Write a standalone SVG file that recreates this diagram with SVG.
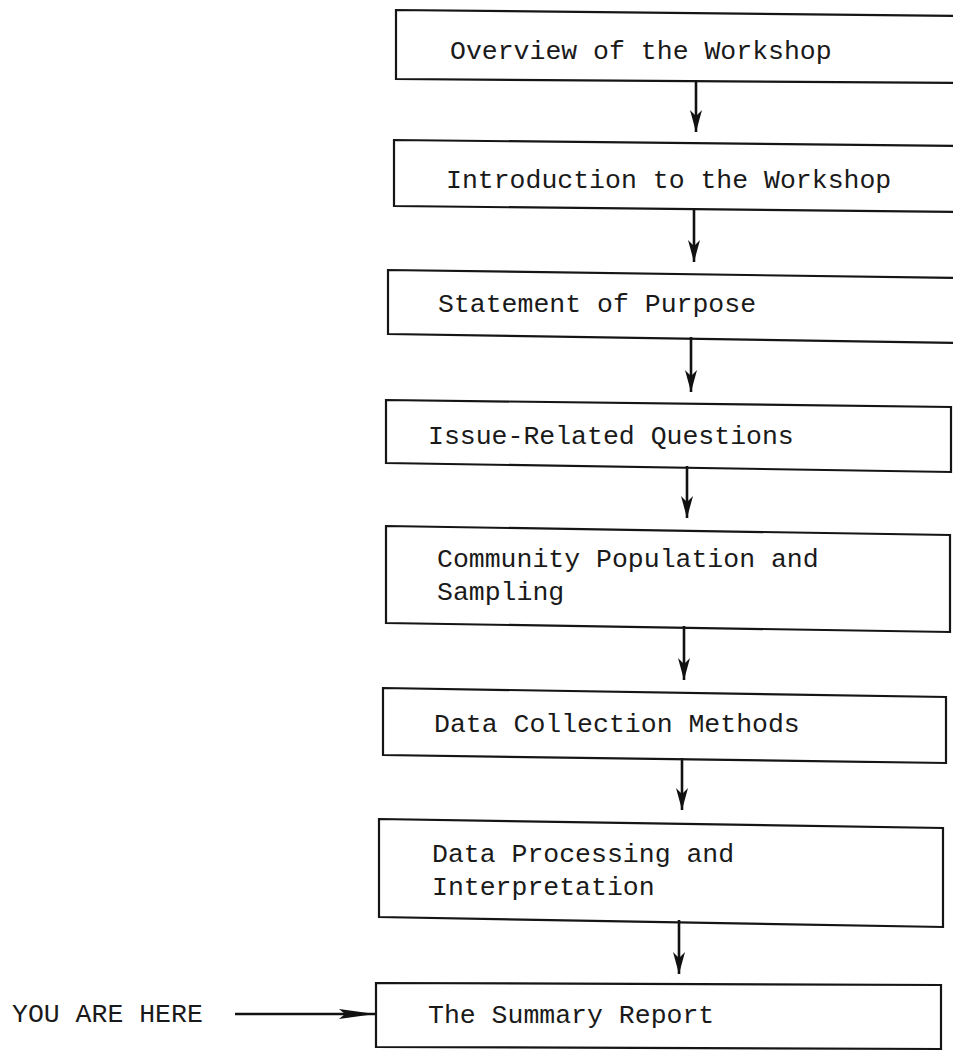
<svg xmlns="http://www.w3.org/2000/svg" width="953" height="1052" viewBox="0 0 953 1052">
<defs>
<style>
.box{fill:none;stroke:#151515;stroke-width:2.2;stroke-linejoin:miter}
.lbl{font-family:"Liberation Mono","DejaVu Sans Mono",monospace;font-size:26.5px;fill:#1a1a1a}
.conn{stroke:#111;stroke-width:2.6;fill:none}
</style>
<marker id="ah" markerUnits="userSpaceOnUse" markerWidth="26" markerHeight="14" viewBox="0 0 26 14" refX="24" refY="7" orient="auto">
<path d="M2,1 L24,7 L2,13 L8,7 Z" fill="#111"/>
</marker>
<marker id="ahh" markerUnits="userSpaceOnUse" markerWidth="40" markerHeight="14" viewBox="0 0 40 14" refX="38" refY="7" orient="auto">
<path d="M2,2 L38,7 L2,12 L8,7 Z" fill="#111"/>
</marker>
</defs>
<rect width="953" height="1052" fill="#fff"/>
<g id="connectors">
<line class="conn" x1="696" y1="80" x2="696" y2="132" marker-end="url(#ah)"/>
<line class="conn" x1="694" y1="208" x2="694" y2="262" marker-end="url(#ah)"/>
<line class="conn" x1="691" y1="337" x2="691" y2="392" marker-end="url(#ah)"/>
<line class="conn" x1="687" y1="466" x2="687" y2="518" marker-end="url(#ah)"/>
<line class="conn" x1="684" y1="626" x2="684" y2="680" marker-end="url(#ah)"/>
<line class="conn" x1="682" y1="758" x2="682" y2="810" marker-end="url(#ah)"/>
<line class="conn" x1="679" y1="920" x2="679" y2="974" marker-end="url(#ah)"/>
<line class="conn" x1="235" y1="1014" x2="375" y2="1014" marker-end="url(#ahh)"/>
</g>
<g id="n1">
<path class="box" d="M960,16 L396,10 L396,79 L960,83"/>
<text class="lbl" x="450" y="59">Overview of the Workshop</text>
</g>
<g id="n2">
<path class="box" d="M960,146 L394,140 L394,206 L960,212"/>
<text class="lbl" x="446" y="188">Introduction to the Workshop</text>
</g>
<g id="n3">
<path class="box" d="M960,278 L388,270 L388,334 L960,343"/>
<text class="lbl" x="438" y="312">Statement of Purpose</text>
</g>
<g id="n4">
<path class="box" d="M386,400 L951,407 L951,472 L386,463 Z"/>
<text class="lbl" x="428" y="444">Issue-Related Questions</text>
</g>
<g id="n5">
<path class="box" d="M386,526 L950,535 L950,632 L386,623 Z"/>
<text class="lbl" x="437" y="567">Community Population and</text>
<text class="lbl" x="437" y="600">Sampling</text>
</g>
<g id="n6">
<path class="box" d="M383,688 L946,697 L946,763 L383,755 Z"/>
<text class="lbl" x="434" y="732">Data Collection Methods</text>
</g>
<g id="n7">
<path class="box" d="M379,819 L943,828 L943,927 L379,917 Z"/>
<text class="lbl" x="432" y="862">Data Processing and</text>
<text class="lbl" x="432" y="895">Interpretation</text>
</g>
<g id="n8">
<path class="box" d="M376,983 L941,985 L941,1049 L376,1047 Z"/>
<text class="lbl" x="428" y="1023">The Summary Report</text>
</g>
<g id="youarehere">
<text class="lbl" x="12" y="1022">YOU ARE HERE</text>
</g>
</svg>
